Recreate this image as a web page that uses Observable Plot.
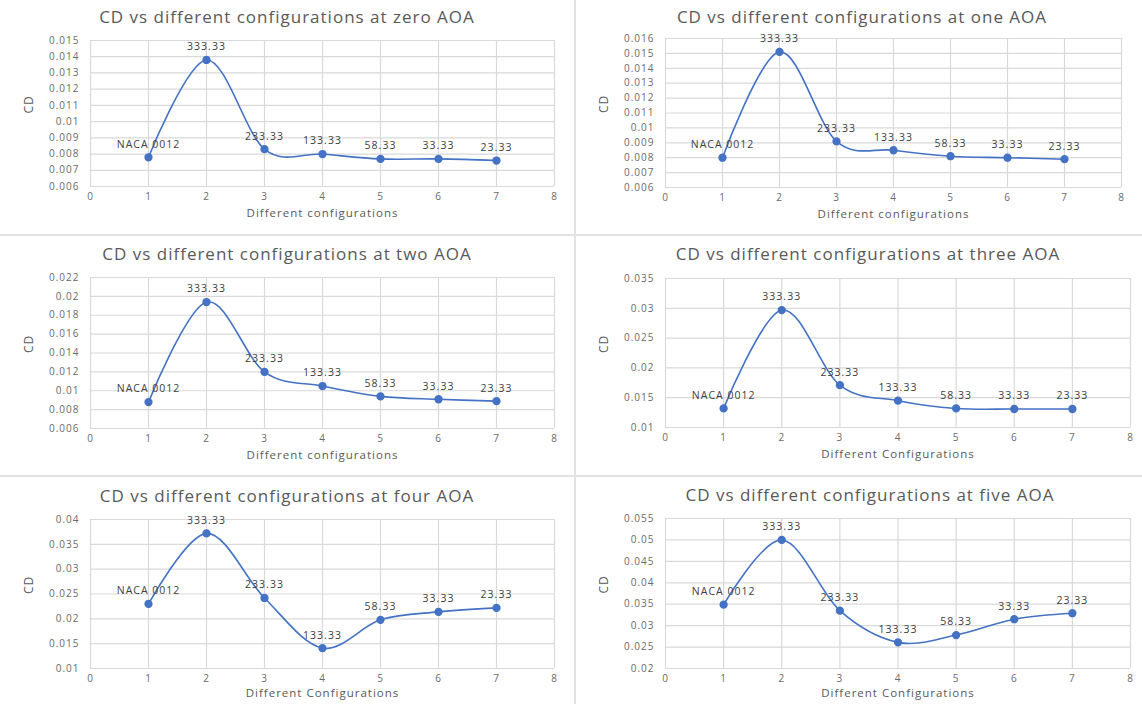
<!DOCTYPE html>
<html><head><meta charset="utf-8">
<script src="https://cdn.jsdelivr.net/npm/d3@7"></script>
<script src="https://cdn.jsdelivr.net/npm/@observablehq/plot@0.6"></script>
<style>
body{margin:0;background:#fff;font-family:"Open Sans",sans-serif;}
#wrap{position:relative;width:1142px;height:704px;overflow:hidden;background:#fff;}
.panel{position:absolute;}
.panel svg{position:absolute;left:0;top:0;}
.panel svg text{letter-spacing:1px;}
.title{position:absolute;width:600px;text-align:center;font-size:17px;letter-spacing:1px;line-height:20px;color:#595959;white-space:nowrap;}
.vsep{position:absolute;left:574px;top:0;width:2px;height:704px;background:#e2e2e2;}
.hsep{position:absolute;left:0;width:1142px;height:2px;background:#e2e2e2;}
</style>
</head><body><div id="wrap"></div>
<script>
// ---- data ----
const configs = [1, 2, 3, 4, 5, 6, 7];
const pointLabels = ["NACA 0012", "333.33", "233.33", "133.33", "58.33", "33.33", "23.33"];
const cdZero  = [0.0078, 0.0138, 0.0083, 0.0080, 0.0077, 0.0077, 0.0076];
const cdOne   = [0.0080, 0.0151, 0.0091, 0.0085, 0.0081, 0.0080, 0.0079];
const cdTwo   = [0.0088, 0.0194, 0.0120, 0.0105, 0.0094, 0.0091, 0.0089];
const cdThree = [0.0132, 0.0297, 0.0171, 0.0145, 0.0132, 0.0131, 0.0131];
const cdFour  = [0.0230, 0.0372, 0.0242, 0.0141, 0.0198, 0.0214, 0.0222];
const cdFive  = [0.0349, 0.0500, 0.0335, 0.0261, 0.0278, 0.0315, 0.0329];
const titles = [
  "CD vs different configurations at zero AOA",
  "CD vs different configurations at one AOA",
  "CD vs different configurations at two AOA",
  "CD vs different configurations at three AOA",
  "CD vs different configurations at four AOA",
  "CD vs different configurations at five AOA"
];
const xTitles = [
  "Different configurations", "Different configurations", "Different configurations",
  "Different Configurations", "Different Configurations", "Different Configurations"
];
const yLabel = "CD";
const xTicks = [0, 1, 2, 3, 4, 5, 6, 7, 8];
const yTicksZero  = [0.006, 0.007, 0.008, 0.009, 0.010, 0.011, 0.012, 0.013, 0.014, 0.015];
const yTicksOne   = [0.006, 0.007, 0.008, 0.009, 0.010, 0.011, 0.012, 0.013, 0.014, 0.015, 0.016];
const yTicksTwo   = [0.006, 0.008, 0.010, 0.012, 0.014, 0.016, 0.018, 0.020, 0.022];
const yTicksThree = [0.010, 0.015, 0.020, 0.025, 0.030, 0.035];
const yTicksFour  = [0.010, 0.015, 0.020, 0.025, 0.030, 0.035, 0.040];
const yTicksFive  = [0.020, 0.025, 0.030, 0.035, 0.040, 0.045, 0.050, 0.055];

const series = [cdZero, cdOne, cdTwo, cdThree, cdFour, cdFive];
const yTickSets = [yTicksZero, yTicksOne, yTicksTwo, yTicksThree, yTicksFour, yTicksFive];

// ---- layout ----
const layout = [
  {left: 0,   top: 0,   w: 575, h: 235, mL: 90, mR: 21, mT: 40, mB: 49, tx: 287, ty: 17,  xt: 30},
  {left: 576, top: 0,   w: 566, h: 235, mL: 89, mR: 21, mT: 38, mB: 48, tx: 862, ty: 17,  xt: 30},
  {left: 0,   top: 236, w: 575, h: 240, mL: 90, mR: 21, mT: 41, mB: 48, tx: 287, ty: 254, xt: 30},
  {left: 576, top: 236, w: 566, h: 240, mL: 89, mR: 12, mT: 42, mB: 49, tx: 868, ty: 254, xt: 30},
  {left: 0,   top: 477, w: 575, h: 227, mL: 90, mR: 21, mT: 42, mB: 36, tx: 287, ty: 496, xt: 28},
  {left: 576, top: 477, w: 566, h: 227, mL: 89, mR: 12, mT: 41, mB: 36, tx: 870, ty: 495, xt: 28}
];

const fmt = d => String(+d.toFixed(4));
const wrap = document.getElementById("wrap");

layout.forEach((p, k) => {
  const values = series[k];
  const ticks = yTickSets[k];
  const data = configs.map((c, i) => ({x: c, y: values[i], label: pointLabels[i]}));
  const panel = document.createElement("div");
  panel.className = "panel";
  Object.assign(panel.style, {left: p.left + "px", top: p.top + "px", width: p.w + "px", height: p.h + "px"});
  const chart = Plot.plot({
    width: p.w, height: p.h,
    marginLeft: p.mL, marginRight: p.mR, marginTop: p.mT, marginBottom: p.mB,
    style: {fontFamily: '"Open Sans", sans-serif', fontSize: "10px", color: "#6a6a6a", background: "transparent", overflow: "visible"},
    x: {domain: [0, 8]},
    y: {domain: [ticks[0], ticks[ticks.length - 1]]},
    marks: [
      Plot.gridX(xTicks, {stroke: "#d9d9d9", strokeOpacity: 1, strokeWidth: 1.2}),
      Plot.gridY(ticks, {stroke: "#d9d9d9", strokeOpacity: 1, strokeWidth: 1.2}),
      Plot.axisX(xTicks, {tickSize: 0, tickPadding: 6, label: null, fill: "#6a6a6a"}),
      Plot.axisY(ticks, {tickSize: 0, tickPadding: 11, label: null, tickFormat: fmt, fill: "#6a6a6a"}),
      Plot.line(data, {x: "x", y: "y", curve: "cardinal", stroke: "#4472C4", strokeWidth: 1.6}),
      Plot.dot(data, {x: "x", y: "y", r: 3.4, fill: "#4472C4", stroke: "#4472C4"}),
      Plot.text(data, {x: "x", y: "y", text: "label", dy: -13, fill: "#404040", fontSize: 10.5}),
      Plot.text([xTitles[k]], {text: d => d, frameAnchor: "bottom", dy: p.xt, fontSize: 11.5, fill: "#595959"}),
      Plot.text([yLabel], {text: d => d, frameAnchor: "left", dx: -61, rotate: -90, fontSize: 12, fill: "#595959"})
    ]
  });
  panel.appendChild(chart);
  wrap.appendChild(panel);
  const t = document.createElement("div");
  t.className = "title";
  t.textContent = titles[k];
  Object.assign(t.style, {left: (p.tx - 300) + "px", top: (p.ty - 10) + "px"});
  wrap.appendChild(t);
});

const v = document.createElement("div"); v.className = "vsep"; wrap.appendChild(v);
[234, 475].forEach(y => {
  const h = document.createElement("div"); h.className = "hsep"; h.style.top = y + "px"; wrap.appendChild(h);
});
</script>
</body></html>
